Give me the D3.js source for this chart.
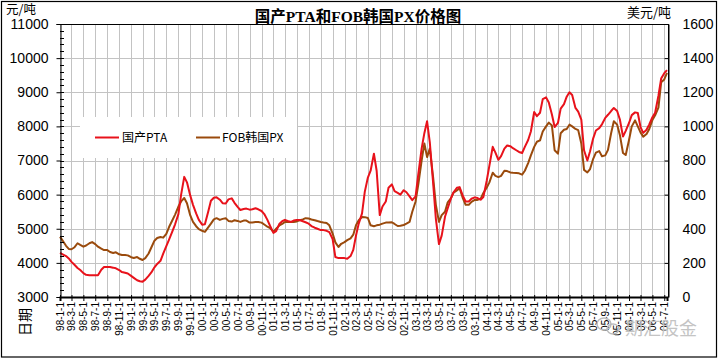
<!DOCTYPE html>
<html><head><meta charset="utf-8">
<script src="https://cdn.jsdelivr.net/npm/d3@7"></script>
<style>body{margin:0;background:#fff}svg{display:block}</style>
</head><body><svg id="c" width="721" height="360"></svg>
<script>
const dates = [
"1998-01-01","1998-01-15","1998-02-01","1998-02-15","1998-03-01","1998-03-15","1998-04-01","1998-04-15","1998-05-01","1998-05-15","1998-06-01","1998-06-15","1998-07-01","1998-07-15","1998-08-01","1998-08-15","1998-09-01","1998-09-15","1998-10-01","1998-10-15","1998-11-01","1998-11-15","1998-12-01","1998-12-15",
"1999-01-01","1999-01-15","1999-02-01","1999-02-15","1999-03-01","1999-03-15","1999-04-01","1999-04-15","1999-05-01","1999-05-15","1999-06-01","1999-06-15","1999-07-01","1999-07-15","1999-08-01","1999-08-15","1999-09-01","1999-09-15","1999-10-01","1999-10-15","1999-11-01","1999-11-15","1999-12-01","1999-12-15",
"2000-01-01","2000-01-15","2000-02-01","2000-02-15","2000-03-01","2000-03-15","2000-04-01","2000-04-15","2000-05-01","2000-05-15","2000-06-01","2000-06-15","2000-07-01","2000-07-15","2000-08-01","2000-08-15","2000-09-01","2000-09-15","2000-10-01","2000-10-15","2000-11-01","2000-11-15","2000-12-01","2000-12-15",
"2001-01-01","2001-01-15","2001-02-01","2001-02-15","2001-03-01","2001-03-15","2001-04-01","2001-04-15","2001-05-01","2001-05-15","2001-06-01","2001-06-15","2001-07-01","2001-07-15","2001-08-01","2001-08-15","2001-09-01","2001-09-15","2001-10-01","2001-10-15","2001-11-01","2001-11-15","2001-12-01","2001-12-15",
"2002-01-01","2002-01-15","2002-02-01","2002-02-15","2002-03-01","2002-03-15","2002-04-01","2002-04-15","2002-05-01","2002-05-15","2002-06-01","2002-06-15","2002-07-01","2002-07-15","2002-08-01","2002-08-15","2002-09-01","2002-09-15","2002-10-01","2002-10-15","2002-11-01","2002-11-15","2002-12-01","2002-12-15",
"2003-01-01","2003-01-15","2003-02-01","2003-02-15","2003-03-01","2003-03-15","2003-04-01","2003-04-15","2003-05-01","2003-05-15","2003-06-01","2003-06-15","2003-07-01","2003-07-15","2003-08-01","2003-08-15","2003-09-01","2003-09-15","2003-10-01","2003-10-15","2003-11-01","2003-11-15","2003-12-01","2003-12-15",
"2004-01-01","2004-01-15","2004-02-01","2004-02-15","2004-03-01","2004-03-15","2004-04-01","2004-04-15","2004-05-01","2004-05-15","2004-06-01","2004-06-15","2004-07-01","2004-07-15","2004-08-01","2004-08-15","2004-09-01","2004-09-15","2004-10-01","2004-10-15","2004-11-01","2004-11-15","2004-12-01","2004-12-15",
"2005-01-01","2005-01-15","2005-02-01","2005-02-15","2005-03-01","2005-03-15","2005-04-01","2005-04-15","2005-05-01","2005-05-15","2005-06-01","2005-06-15","2005-07-01","2005-07-15","2005-08-01","2005-08-15","2005-09-01","2005-09-15","2005-10-01","2005-10-15","2005-11-01","2005-11-15","2005-12-01","2005-12-15",
"2006-01-01","2006-01-15","2006-02-01","2006-02-15","2006-03-01","2006-03-15","2006-04-01","2006-04-15","2006-05-01","2006-05-15","2006-06-01","2006-06-15","2006-07-01","2006-07-15"
];
// 国产PTA, 元/吨 (left axis)
const ptaValues = [
4290,4250,4200,4130,4030,3950,3850,3790,3700,3650,3640,3640,3640,3640,3800,3880,3880,3880,3860,3840,3790,3730,3710,3690,
3620,3560,3490,3460,3450,3510,3620,3720,3870,3970,4060,4270,4490,4680,4920,5130,5430,6000,6520,6360,5970,5700,5450,5260,
5120,5130,5500,5820,5910,5920,5850,5750,5740,5860,5890,5760,5640,5550,5580,5590,5560,5570,5600,5570,5520,5430,5260,5080,
4880,4930,5150,5220,5260,5230,5200,5240,5260,5256,5220,5190,5150,5080,5030,5000,4960,4960,4940,4900,4700,4170,4140,4140,
4140,4120,4200,4380,4800,5150,5450,6080,6500,6700,7200,6700,5400,5650,5800,6200,6300,6100,6050,6000,6130,6070,5950,5840,
5950,6600,7350,7800,8150,7530,6340,5300,4550,4800,5350,5600,5880,6070,6200,6220,5960,5800,5800,5880,5920,5900,5850,5930,
6400,6850,7400,7230,7020,7130,7350,7440,7420,7360,7300,7250,7220,7400,7600,7850,8420,8300,8400,8800,8850,8700,8350,7980,
8100,8520,8650,8870,9000,8920,8540,8430,8200,7300,7000,7270,7650,7880,7950,8060,8250,8340,8450,8540,8450,8200,7700,7870,
8100,8330,8410,8390,7980,7810,7900,8060,8270,8400,8900,9400,9560,9650
];
// FOB韩国PX, 美元/吨 (right axis)
const pxValues = [
352,330,300,282,280,290,315,305,295,302,315,322,310,295,283,275,275,264,258,262,250,246,246,244,
233,229,234,224,217,228,255,290,330,346,352,348,370,410,450,483,530,560,580,550,478,440,415,398,
388,382,408,430,455,462,452,458,462,446,442,450,446,440,448,448,436,437,440,440,436,425,412,404,
382,400,420,428,440,440,440,440,443,450,455,462,460,454,450,445,440,437,434,420,372,320,293,312,
322,333,344,365,420,450,469,468,463,420,415,420,424,430,436,436,438,428,416,418,422,430,440,500,
560,660,800,900,820,870,703,540,440,480,500,555,578,612,625,637,578,540,540,558,569,569,575,610,
640,672,728,710,703,710,740,738,730,728,727,725,717,740,785,830,880,910,918,970,1000,1022,1005,860,
840,960,980,985,1010,1000,985,978,900,745,730,750,810,846,855,825,830,862,960,1030,1010,950,844,832,
920,1000,1035,1000,965,940,955,985,1037,1065,1110,1258,1275,1313
];
const leftTicks = [3000,4000,5000,6000,7000,8000,9000,10000,11000];
const rightTicks = [0,200,400,600,800,1000,1200,1400,1600];
const titleText = "国产PTA和FOB韩国PX价格图";
const seriesNames = ["国产PTA","FOB韩国PX"];
const seriesColors = ["#e8121b","#9a4a0c"];
const leftUnit = "元/吨", rightUnit = "美元/吨", xTitle = "日期";
const watermark = "期汇股金";

const parse = d3.timeParse("%Y-%m-%d");
const D = dates.map(parse);
const svg = d3.select("#c");
const L = 60, R = 668.5, T = 24, B = 297;

const x = d3.scaleTime().domain([parse("1998-01-01"), parse("2006-07-15")]).range([L, 667]);
const yL = d3.scaleLinear().domain([3000, 11000]).range([B, T]);
const yR = d3.scaleLinear().domain([0, 1600]).range([B, T]);
const xTicks = d3.timeMonth.every(2).range(parse("1998-01-01"), parse("2006-07-02"));

svg.append("rect").attr("x",1.5).attr("y",1.5).attr("width",715).attr("height",355.5)
  .attr("fill","#fff").attr("stroke","#000").attr("stroke-width",1.2);

// gridlines
const grid = svg.append("g").attr("stroke","#c3c3c3").attr("stroke-width",1);
grid.selectAll("line.v").data(xTicks).join("line")
  .attr("x1",d=>Math.round(x(d))+0.5).attr("x2",d=>Math.round(x(d))+0.5).attr("y1",T).attr("y2",B);
grid.selectAll("line.h").data(leftTicks).join("line")
  .attr("x1",L).attr("x2",R).attr("y1",d=>Math.round(yL(d))+0.5).attr("y2",d=>Math.round(yL(d))+0.5);

// legend background
svg.append("rect").attr("x",80).attr("y",117).attr("width",217).attr("height",41).attr("fill","#fff");

// lines
const series = [ptaValues.map((v,i)=>({d:D[i],v,y:yL(v)})), pxValues.map((v,i)=>({d:D[i],v,y:yR(v)}))];
const line = d3.line().x(p=>x(p.d)).y(p=>p.y);
svg.append("g").selectAll("path").data([series[1],series[0]]).join("path")
  .attr("d",line).attr("fill","none")
  .attr("stroke",(d,i)=>i===0?seriesColors[1]:seriesColors[0])
  .attr("stroke-width",2).attr("stroke-linejoin","round");

// frame
svg.append("line").attr("x1",L).attr("x2",R).attr("y1",T+0.5).attr("y2",T+0.5).attr("stroke","#000");
svg.append("line").attr("x1",R).attr("x2",R).attr("y1",T).attr("y2",B).attr("stroke","#000");

// left axis
const axL = svg.append("g").attr("transform",`translate(${L+0.5},0)`)
  .call(d3.axisLeft(yL).tickValues(leftTicks).tickSize(4).tickPadding(8).tickFormat(d3.format("d")));
axL.select(".domain").attr("stroke","#000");
axL.selectAll("text").attr("font-family","'Liberation Sans', Arial, sans-serif").attr("font-size",14).attr("fill","#000");
svg.append("g").selectAll("line").data(d3.range(3000,11001,200)).join("line")
  .attr("x1",L).attr("x2",L+4).attr("y1",d=>Math.round(yL(d))+0.5).attr("y2",d=>Math.round(yL(d))+0.5).attr("stroke","#000");

// right axis
const axR = svg.append("g").attr("transform",`translate(${R},0)`)
  .call(d3.axisRight(yR).tickValues(rightTicks).tickSizeInner(-4).tickSizeOuter(0).tickPadding(14).tickFormat(d3.format("d")));
axR.select(".domain").attr("stroke","#000");
axR.selectAll("text").attr("font-family","'Liberation Sans', Arial, sans-serif").attr("font-size",14).attr("fill","#000");

// x axis
const fmt = d => `${String(d.getFullYear()).slice(2)}-${d.getMonth()+1}-1`;
const axX = svg.append("g").attr("transform",`translate(0,${B})`)
  .call(d3.axisBottom(x).tickValues(xTicks).tickSize(4).tickFormat(fmt));
axX.select(".domain").attr("stroke","#000").attr("stroke-width",2);
axX.selectAll(".tick line").attr("stroke","#000").attr("y1",-2);
axX.selectAll("text").attr("transform","rotate(-90)").attr("text-anchor","end")
  .attr("x",-5).attr("y",0).attr("dy","0.35em")
  .attr("font-family","'Liberation Sans', Arial, sans-serif").attr("font-size",10).attr("fill","#000");

// texts
svg.append("text").attr("x",358).attr("y",22).attr("text-anchor","middle")
  .attr("font-family","'Liberation Serif','Noto Sans CJK SC',serif").attr("font-weight","bold").attr("font-size",15.5)
  .text(titleText);
svg.append("text").attr("x",6).attr("y",14).attr("font-family","'Noto Sans CJK SC',sans-serif").attr("font-size",12.5).text(leftUnit);
svg.append("text").attr("x",627).attr("y",17).attr("font-family","'Noto Sans CJK SC',sans-serif").attr("font-size",13).text(rightUnit);
svg.append("text").attr("transform","translate(30,322) rotate(-90)").attr("text-anchor","middle")
  .attr("font-family","'Noto Sans CJK SC',sans-serif").attr("font-size",14).text(xTitle);

// legend
const lg = svg.append("g");
[[95,122],[196,222]].forEach((p,i)=>{
  lg.append("line").attr("x1",p[0]).attr("x2",p[0]+24).attr("y1",137.5).attr("y2",137.5)
    .attr("stroke",seriesColors[i]).attr("stroke-width",2);
  lg.append("text").attr("x",p[1]).attr("y",142).attr("font-family","'Noto Sans CJK SC',sans-serif")
    .attr("font-size",12).text(seriesNames[i]);
});

// watermark
const wm = svg.append("g").attr("fill","none").attr("stroke","#bbb").attr("stroke-width",1.5);
wm.append("ellipse").attr("cx",604).attr("cy",324).attr("rx",7).attr("ry",6);
wm.append("ellipse").attr("cx",613).attr("cy",329).attr("rx",6).attr("ry",5);
svg.append("text").attr("x",625).attr("y",335).attr("font-family","'Noto Sans CJK SC',sans-serif")
  .attr("font-size",18).attr("fill","#c4c4c4").text(watermark);
</script></body></html>
